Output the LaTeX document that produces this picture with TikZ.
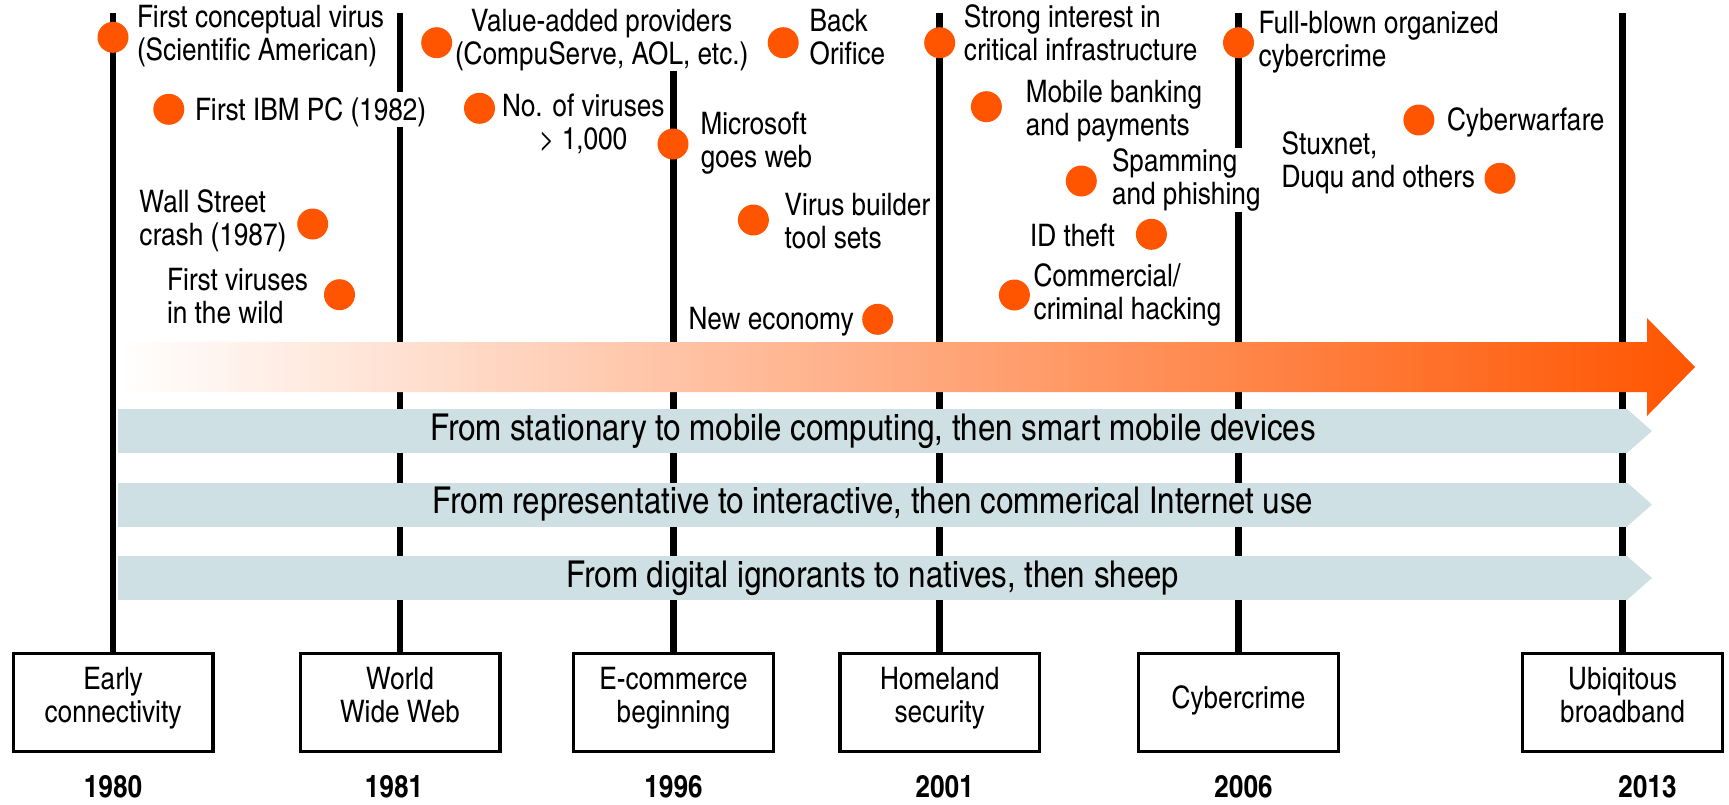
\documentclass[tikz,border=0pt]{standalone}
\usepackage{fontspec}
\setmainfont{texgyreheroscn-regular.otf}[BoldFont=texgyreheroscn-bold.otf, FakeStretch=1.03]
\usepackage{xcolor}
\usetikzlibrary{positioning}

\definecolor{hotorange}{RGB}{255,85,0}
\definecolor{bandblue}{RGB}{206,224,227}

\begin{document}
\begin{tikzpicture}[
    x=1pt, y=-1pt,
    font=\fontsize{31}{33}\selectfont,
    node distance=8pt,
    dot/.style={circle, fill=hotorange, minimum size=31pt, inner sep=0pt, outer sep=0pt},
    event/.style={
      align=left,
      inner xsep=1pt, inner ysep=0.5pt, outer sep=0pt,
      execute at begin node={\rule{0pt}{28pt}},
      execute at end node={\rule[-6.5pt]{0pt}{6.5pt}}
    },
    cut/.style={fill=white},
    era/.style={
      draw,
      line width=3.3pt,
      align=center,
      minimum width=199.7pt,
      minimum height=97.7pt,
      inner sep=2pt,
      execute at begin node={\rule{0pt}{28pt}},
      execute at end node={\rule[-16pt]{0pt}{16pt}}
    },
    year/.style={font=\fontsize{31}{33}\selectfont\bfseries, inner sep=0pt},
    trend/.style={
      fill=bandblue,
      minimum width=1510pt,
      minimum height=44pt,
      inner sep=0pt, outer sep=0pt,
      font=\fontsize{37}{38}\selectfont
    },
    eraline/.style={line width=6.5pt}
  ]
    \useasboundingbox (0,0) rectangle (1729,804);

    \node[era] (b1980) at (113,702.5)    {Early\\connectivity};
    \node[era] (b1981) at (400,702.5)    {World\\Wide Web};
    \node[era] (b1996) at (673.5,702.5)  {E-commerce\\beginning};
    \node[era] (b2001) at (939.7,702.5)  {Homeland\\security};
    \node[era] (b2006) at (1238.5,702.5) {Cybercrime};
    \node[era] (b2013) at (1622.5,702.5) {Ubiqitous\\broadband};

    \node[year, below=22.7pt of b1980] (y1980) {1980};
    \node[year, below=22.7pt of b1981, xshift=-6pt] (y1981) {1981};
    \node[year, below=22.7pt of b1996] (y1996) {1996};
    \node[year, below=22.7pt of b2001, xshift=5pt] (y2001) {2001};
    \node[year, below=22.7pt of b2006, xshift=5pt] (y2006) {2006};
    \node[year, below=22.7pt of b2013, xshift=25pt] (y2013) {2013};

    \coordinate (top) at (0,13.3);
    \draw[eraline] (b1980) -- (b1980 |- top);
    \draw[eraline] (b1981) -- (b1981 |- top);
    \draw[eraline] (b1996) -- (b1996 |- top);
    \draw[eraline] (b2001) -- (b2001 |- top);
    \draw[eraline] (b2006) -- (b2006 |- top);
    \draw[eraline] (b2013) -- (b2013 |- top);

    % rising threat level
    \shade[left color=white, right color=hotorange]
      (119,342) -- (1647,342) -- (1647,318) -- (1695,367)
      -- (1647,416) -- (1647,392) -- (119,392) -- cycle;

    \node[trend] (s1) at (873,431) {From stationary to mobile computing, then smart mobile devices};
    \node[trend, below=29.5pt of s1] (s2) {From representative to interactive, then commerical Internet use};
    \node[trend, below=29.5pt of s2] (s3) {From digital ignorants to natives, then sheep};
    \fill[bandblue] ([xshift=-1pt]s1.north east) -- ([xshift=24pt]s1.east) -- ([xshift=-1pt]s1.south east) -- cycle;
    \fill[bandblue] ([xshift=-1pt]s2.north east) -- ([xshift=24pt]s2.east) -- ([xshift=-1pt]s2.south east) -- cycle;
    \fill[bandblue] ([xshift=-1pt]s3.north east) -- ([xshift=24pt]s3.east) -- ([xshift=-1pt]s3.south east) -- cycle;

    \node[dot] (c1) at (113,37.3) {};
    \node[dot] (c2) at (168.8,109.3) {};
    \node[dot] (c3) at (312.7,224) {};
    \node[dot] (c4) at (339.5,294.7) {};
    \node[dot] (c5) at (436.7,42.7) {};
    \node[dot] (c6) at (479.5,108.3) {};
    \node[dot] (c7) at (783.2,42.7) {};
    \node[dot] (c8) at (673,144) {};
    \node[dot] (c9) at (753.4,220) {};
    \node[dot] (c10) at (877.7,319.3) {};
    \node[dot] (c11) at (939.7,42.7) {};
    \node[dot] (c12) at (986.4,106.7) {};
    \node[dot] (c13) at (1081.3,181) {};
    \node[dot] (c14) at (1151.4,234.3) {};
    \node[dot] (c15) at (1014.4,295) {};
    \node[dot] (c16) at (1238.5,42.7) {};
    \node[dot] (c17) at (1418.9,120) {};
    \node[dot] (c18) at (1500,178.3) {};

    \node[event, right=7.5pt of c1, yshift=1pt] (t1) {First conceptual virus\\(Scientific American)};
    \node[event, cut, right=9.7pt of c2] (t2) {First IBM PC (1982)};
    \node[event, left=9.9pt of c3, yshift=3pt] (t3) {Wall Street\\crash (1987)};
    \node[event, left=15pt of c4, yshift=-4pt] (t4) {First viruses\\in the wild};
    \node[event, cut, align=center, right=1.8pt of c5, yshift=2.7pt] (t5) {Value-added providers\\(CompuServe, AOL, etc.)};
    \node[event, align=center, right=6pt of c6, yshift=-17pt] (t6) {No. of viruses\\> 1,000};
    \node[event, right=9.9pt of c7, yshift=2.7pt] (t7) {Back\\Orifice};
    \node[event, right=11pt of c8, yshift=1pt] (t8) {Microsoft\\goes web};
    \node[event, right=14.8pt of c9, yshift=-4pt] (t9) {Virus builder\\tool sets};
    \node[event, left=7.6pt of c10] (t10) {New economy};
    \node[event, right=7.7pt of c11, yshift=7pt] (t11) {Strong interest in\\critical infrastructure};
    \node[event, right=22.9pt of c12, yshift=-4pt] (t12) {Mobile banking\\and payments};
    \node[event, cut, right=14.2pt of c13, yshift=1pt] (t13) {Spamming\\and phishing};
    \node[event, left=19.9pt of c14, yshift=-1pt] (t14) {ID theft};
    \node[event, right=2.6pt of c15, yshift=0pt] (t15) {Commercial/\\criminal hacking};
    \node[event, right=3.5pt of c16, yshift=1pt] (t16) {Full-blown organized\\cybercrime};
    \node[event, right=11.6pt of c17] (t17) {Cyberwarfare};
    \node[event, left=8.5pt of c18, yshift=15pt] (t18) {Stuxnet,\\Duqu and others};
  \end{tikzpicture}
\end{document}
